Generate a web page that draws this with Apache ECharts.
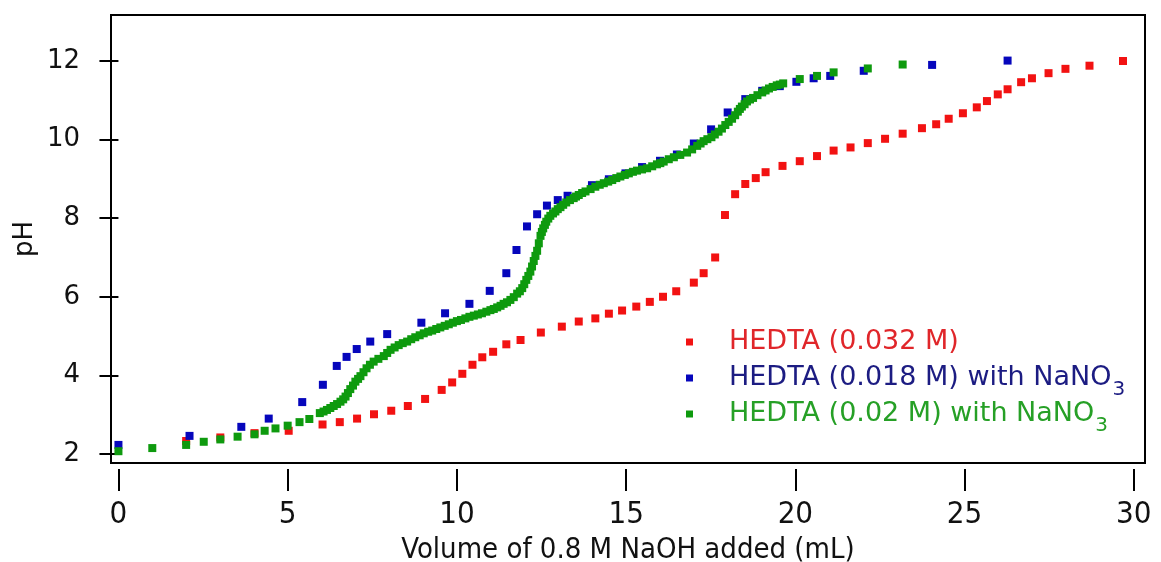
<!DOCTYPE html>
<html><head><meta charset="utf-8">
<script src="https://cdn.jsdelivr.net/npm/echarts@6/dist/echarts.min.js"></script>
<style>html,body{margin:0;padding:0;background:#fff}#c{width:1161px;height:562px}</style>
</head><body><div id="c"></div>
<script>
const xTicks = [0, 5, 10, 15, 20, 25, 30];
const yTicks = [2, 4, 6, 8, 10, 12];
const seriesNames = ['HEDTA (0.032 M)', 'HEDTA (0.018 M) with NaNO3', 'HEDTA (0.02 M) with NaNO3'];
const xTitle = 'Volume of 0.8 M NaOH added (mL)';
const yTitle = 'pH';

// HEDTA (0.032 M)  [mL NaOH, pH]
const redData = [[2.0,2.33],[3.01,2.42],[4.02,2.53],[5.03,2.59],[6.03,2.75],[6.54,2.81],[7.05,2.9],[7.55,3.01],[8.06,3.1],[8.55,3.22],[9.06,3.4],[9.55,3.63],[9.86,3.82],[10.16,4.04],[10.46,4.27],[10.75,4.46],[11.07,4.6],[11.46,4.79],[11.88,4.9],[12.48,5.09],[13.1,5.24],[13.6,5.37],[14.09,5.45],[14.49,5.57],[14.88,5.65],[15.3,5.75],[15.7,5.87],[16.09,6.0],[16.48,6.14],[17.0,6.36],[17.29,6.6],[17.63,7.0],[17.92,8.08],[18.22,8.61],[18.52,8.87],[18.83,9.02],[19.12,9.17],[19.62,9.33],[20.13,9.45],[20.64,9.58],[21.13,9.72],[21.63,9.8],[22.14,9.91],[22.65,10.02],[23.17,10.15],[23.74,10.29],[24.16,10.39],[24.53,10.53],[24.95,10.67],[25.36,10.82],[25.66,10.98],[25.98,11.15],[26.27,11.28],[26.67,11.46],[26.99,11.56],[27.48,11.69],[27.98,11.8],[28.69,11.88],[29.68,12.0]];

// HEDTA (0.018 M) with NaNO3
const blueData = [[0,2.23],[2.1,2.46],[3.63,2.69],[4.44,2.9],[5.43,3.32],[6.04,3.76],[6.45,4.24],[6.74,4.47],[7.04,4.67],[7.44,4.86],[7.94,5.05],[8.95,5.34],[9.65,5.58],[10.37,5.82],[10.97,6.15],[11.46,6.6],[11.76,7.19],[12.07,7.79],[12.37,8.1],[12.66,8.32],[12.98,8.46],[13.27,8.57],[13.99,8.84],[14.49,8.99],[14.98,9.14],[15.47,9.3],[16.0,9.46],[16.5,9.62],[17.0,9.9],[17.51,10.26],[18.0,10.69],[18.52,11.03],[19.02,11.24],[19.54,11.36],[20.03,11.47],[20.54,11.56],[21.03,11.62],[22.02,11.75],[24.04,11.9],[26.27,12.01]];

// HEDTA (0.02 M) with NaNO3
const greenData = [[0,2.07],[1.0,2.15],[2.0,2.23],[2.52,2.31],[3.01,2.37],[3.52,2.44],[4.02,2.5],[4.32,2.59],[4.64,2.65],[5.0,2.72],[5.35,2.81],[5.64,2.89],[5.95,3.04],[6.06,3.08],[6.16,3.12],[6.26,3.17],[6.36,3.22],[6.46,3.27],[6.56,3.33],[6.64,3.39],[6.71,3.46],[6.78,3.55],[6.85,3.65],[6.93,3.74],[7.0,3.84],[7.08,3.91],[7.15,3.98],[7.24,4.08],[7.33,4.18],[7.43,4.27],[7.54,4.35],[7.68,4.42],[7.84,4.49],[7.94,4.57],[8.04,4.65],[8.16,4.71],[8.28,4.77],[8.4,4.82],[8.53,4.86],[8.65,4.92],[8.77,4.97],[8.9,5.02],[9.02,5.07],[9.15,5.11],[9.27,5.14],[9.39,5.18],[9.51,5.22],[9.64,5.26],[9.76,5.3],[9.88,5.34],[10.0,5.38],[10.12,5.41],[10.25,5.45],[10.37,5.49],[10.5,5.52],[10.62,5.55],[10.74,5.58],[10.87,5.62],[10.99,5.66],[11.09,5.69],[11.19,5.73],[11.29,5.77],[11.38,5.82],[11.48,5.86],[11.58,5.92],[11.68,5.99],[11.78,6.08],[11.86,6.14],[11.93,6.22],[11.99,6.32],[12.05,6.43],[12.11,6.53],[12.17,6.64],[12.22,6.77],[12.27,6.91],[12.32,7.04],[12.37,7.17],[12.42,7.36],[12.47,7.55],[12.51,7.65],[12.55,7.74],[12.6,7.83],[12.64,7.91],[12.7,7.99],[12.76,8.06],[12.84,8.12],[12.91,8.17],[12.98,8.23],[13.06,8.28],[13.14,8.34],[13.23,8.4],[13.34,8.46],[13.45,8.51],[13.52,8.55],[13.6,8.59],[13.7,8.64],[13.8,8.68],[13.95,8.74],[14.09,8.8],[14.22,8.85],[14.34,8.89],[14.47,8.93],[14.59,8.97],[14.71,9.02],[14.83,9.06],[14.96,9.1],[15.08,9.14],[15.2,9.18],[15.32,9.21],[15.47,9.24],[15.62,9.27],[15.77,9.32],[15.91,9.37],[16.01,9.4],[16.11,9.44],[16.26,9.5],[16.41,9.55],[16.6,9.61],[16.8,9.67],[16.95,9.75],[17.1,9.84],[17.2,9.9],[17.29,9.96],[17.4,10.01],[17.52,10.06],[17.62,10.13],[17.73,10.2],[17.83,10.28],[17.93,10.37],[18.03,10.45],[18.13,10.53],[18.22,10.62],[18.3,10.71],[18.36,10.78],[18.42,10.84],[18.5,10.9],[18.57,10.97],[18.66,11.02],[18.75,11.06],[18.88,11.13],[19.02,11.2],[19.12,11.25],[19.22,11.3],[19.33,11.34],[19.45,11.38],[19.54,11.4],[19.64,11.43],[20.13,11.54],[20.64,11.62],[21.13,11.71],[22.14,11.81],[23.17,11.91]];

const markerColors = ['#f21212', '#0606bc', '#0e9a0e'];
const legendColors = ['#e0262a', '#1c1c82', '#26a026'];

const chart = echarts.init(document.getElementById('c'), null, {renderer: 'canvas'});
const narrow = "'Liberation Sans Narrow', 'DejaVu Sans Condensed', 'Noto Sans', sans-serif";
const sans = "'DejaVu Sans', 'Noto Sans', sans-serif";

// every legend row gets the same rich structure so all rows have equal height
function legendLabel(name) {
  if (name.endsWith('NaNO3')) {
    return '{m|' + name.slice(0, -1) + '}{s|3}';
  }
  return '{m|' + name + '}{s| }';
}

const datasets = [redData, blueData, greenData];
chart.setOption({
  animation: false,
  backgroundColor: '#fff',
  grid: {left: 111, right: 16, top: 15, bottom: 99, show: true, borderColor: '#000', borderWidth: 2,
         backgroundColor: 'transparent', outerBoundsMode: 'none', containLabel: false},
  xAxis: {
    type: 'value', min: -0.22, max: 30.33, offset: 6,
    name: xTitle, nameLocation: 'middle', nameGap: 67,
    nameTextStyle: {fontFamily: narrow, fontSize: 29, color: '#111'},
    axisLine: {show: false},
    axisTick: {show: true, length: 22, lineStyle: {color: '#000', width: 2}, customValues: xTicks},
    axisLabel: {show: true, margin: 30, fontFamily: narrow, fontSize: 31, color: '#111', customValues: xTicks},
    splitLine: {show: false}
  },
  yAxis: {
    type: 'value', min: 1.77, max: 13.17,
    name: yTitle, nameLocation: 'middle', nameGap: 73, nameRotate: 90, nameMoveOverlap: false,
    nameTextStyle: {fontFamily: sans, fontSize: 26, color: '#111'},
    axisLine: {show: false},
    axisTick: {show: true, length: 19, lineStyle: {color: '#000', width: 2}, customValues: yTicks},
    axisLabel: {show: true, margin: 31, fontFamily: sans, fontSize: 26, color: '#111', customValues: yTicks},
    splitLine: {show: false}
  },
  legend: {
    orient: 'vertical', left: 681, top: 315, itemWidth: 7, itemHeight: 7, itemGap: -8,
    icon: 'rect',
    data: seriesNames.map((n, i) => ({name: n, itemStyle: {color: markerColors[i], opacity: 1}, textStyle: {color: legendColors[i]}})),
    formatter: legendLabel,
    textStyle: {
      fontFamily: sans, fontSize: 27, padding: [0, 0, 0, 31],
      rich: {
        m: {fontFamily: sans, fontSize: 27, lineHeight: 30},
        s: {fontFamily: sans, fontSize: 20, lineHeight: 2, padding: [24, 0, 0, 1]}
      }
    }
  },
  series: seriesNames.map((n, i) => ({
    name: n, type: 'scatter', symbol: 'rect', symbolSize: 8,
    itemStyle: {color: markerColors[i], opacity: 1},
    data: datasets[i]
  }))
});
</script>
</body></html>
